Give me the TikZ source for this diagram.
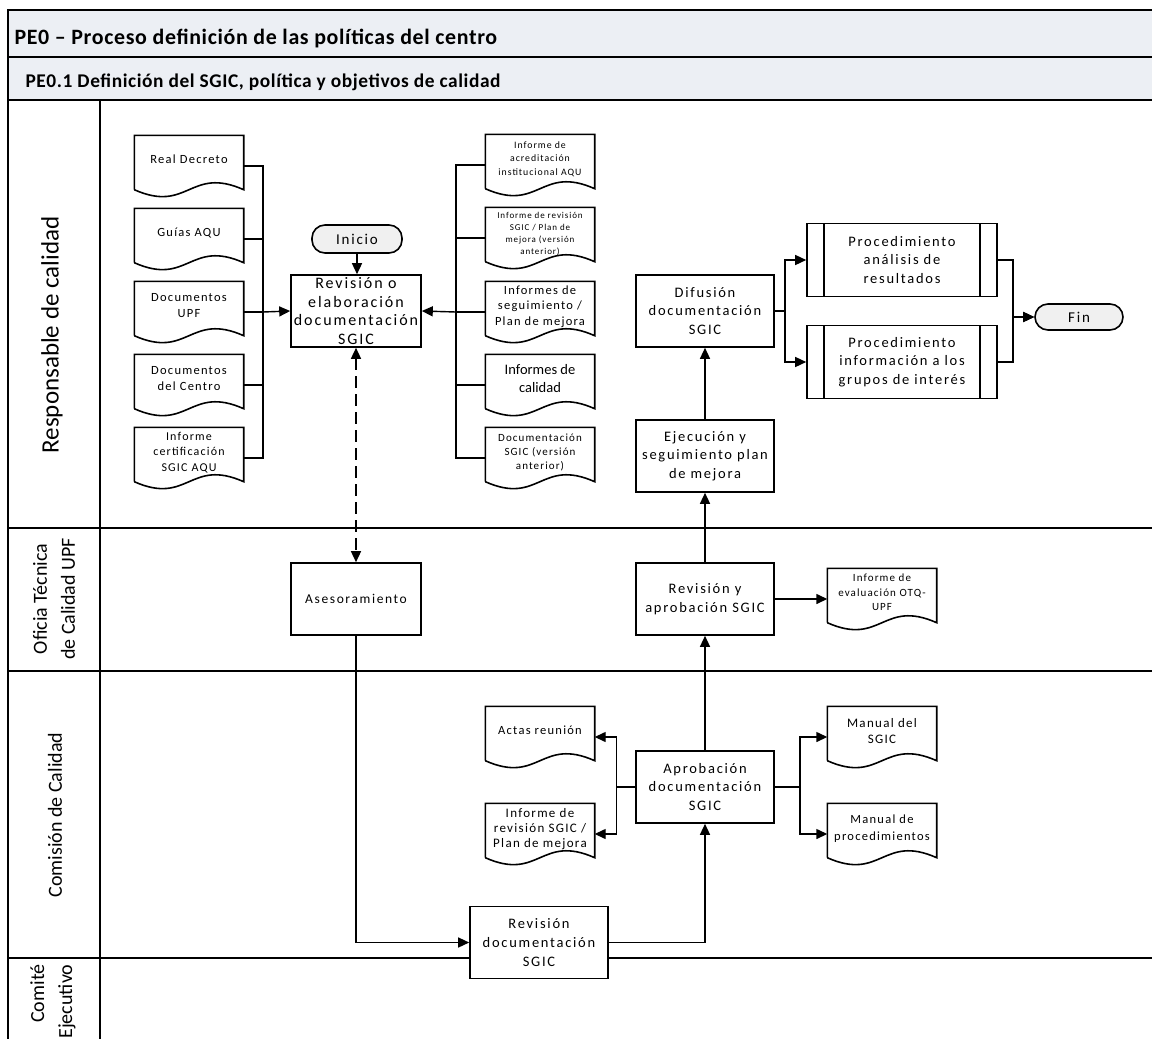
\documentclass[tikz,border=0pt]{standalone}
\usepackage{fontspec}
\setmainfont{Carlito}
\newfontfamily\spacedfont{Carlito}[LetterSpace=10]
\newfontfamily\boxfont{Carlito}[LetterSpace=12]
\newfontfamily\titlefont{Carlito}[LetterSpace=3]
\usetikzlibrary{arrows.meta,positioning}

\definecolor{bandgray}{RGB}{236,239,244}
\definecolor{termgray}{RGB}{240,240,240}

\newcommand{\fsz}[2]{\fontsize{#1}{#2}\selectfont}

\begin{document}
\begin{tikzpicture}[
    x=1pt, y=-1pt,
    box/.style={draw, fill=white, line width=1.6pt, minimum width=138pt, minimum height=72pt, align=center, inner sep=2pt, font=\boxfont\fsz{14.5}{18.7}},
    docu/.style={minimum width=109pt, minimum height=61pt, align=center, inner sep=1pt, text depth=13pt, font=\spacedfont\fsz{12.5}{16.5},
        append after command={\pgfextra{
            \draw[line width=1.6pt, fill=white]
                ([yshift=7pt]\tikzlastnode.south west) -- (\tikzlastnode.north west)
                -- (\tikzlastnode.north east) -- ([yshift=7pt]\tikzlastnode.south east)
                .. controls +(-54pt,24pt) and +(54pt,-24pt) .. ([yshift=7pt]\tikzlastnode.south west);
        }}},
    term/.style={draw, line width=1.6pt, rounded corners=13pt, fill=termgray, minimum width=90pt, minimum height=28pt, inner sep=1pt, font=\boxfont\fsz{15}{18}},
    subproc/.style={box, minimum width=190pt, minimum height=73pt,
        path picture={
            \draw[line width=1.6pt] ([xshift=17pt]path picture bounding box.north west) -- ([xshift=17pt]path picture bounding box.south west);
            \draw[line width=1.6pt] ([xshift=-17pt]path picture bounding box.north east) -- ([xshift=-17pt]path picture bounding box.south east);
        }},
    conn/.style={line width=1.4pt},
    arr/.style={conn, -{Triangle[length=11pt, width=10pt]}},
    arrboth/.style={conn, {Triangle[length=11pt, width=10pt]}-{Triangle[length=11pt, width=10pt]}, dash pattern=on 12pt off 6pt},
    lane/.style={line width=2.6pt},
    lanelabel/.style={rotate=90, align=center, font=\fsz{20}{28}}
]
    \useasboundingbox (0,0) rectangle (1152,1039);

    % Title bands
    \draw[lane, fill=bandgray] (8,10) rectangle (1162,57);
    \draw[lane, fill=bandgray] (8,57) rectangle (1162,100);
    \node[anchor=base west, font=\titlefont\bfseries\fsz{21.9}{24}] (title) at (11,44) {PE0 – Proceso definición de las políticas del centro};
    \node[anchor=base west, font=\titlefont\bfseries\fsz{19.4}{22}] (subtitle) at (22,87) {PE0.1 Definición del SGIC, política y objetivos de calidad};

    % Lanes
    \draw[lane] (8,100) -- (8,1050);
    \draw[lane] (100,100) -- (100,1050);
    \draw[lane] (8,528) -- (1162,528);
    \draw[lane] (8,671) -- (1162,671);
    \draw[lane] (8,958) -- (1162,958);

    \node[lanelabel, font=\fsz{25}{28}] (lresp) at (52,335) {Responsable de calidad};
    \node[lanelabel] (lotq) at (54,599) {Oficia Técnica\\de Calidad UPF};
    \node[lanelabel] (lcom) at (55,815) {Comisión de Calidad};
    \node[lanelabel, align=right, anchor=east] (lcej) at (53,961) {Comité\\Ejecutivo};

    % Input documents (left)
    \node[docu] (rd) at (189,166) {Real Decreto};
    \node[docu] (guias) at (189,239) {Guías AQU};
    \node[docu, font=\spacedfont\fsz{12.5}{16.7}] (dupf) at (189,312) {Documentos\\UPF};
    \node[docu, font=\spacedfont\fsz{12.5}{16.7}] (dcen) at (189,385) {Documentos\\del Centro};
    \node[docu, font=\spacedfont\fsz{12}{15.6}] (icert) at (189,458) {Informe\\certificación\\SGIC AQU};

    % Input documents (right)
    \node[docu, font=\spacedfont\fsz{9.8}{13.2}] (iacr) at (540,165) {Informe de\\acreditación\\institucional AQU};
    \node[docu, font=\spacedfont\fsz{9}{11.9}, text depth=9pt] (irev) at (540,238) {Informe de revisión\\SGIC / Plan de\\mejora (versión\\anterior)};
    \node[docu, font=\spacedfont\fsz{12.5}{15.8}] (iseg) at (540,312) {Informes de\\seguimiento /\\Plan de mejora};
    \node[docu, font=\fsz{14.5}{18.3}] (ical) at (540,385) {Informes de\\calidad};
    \node[docu, font=\spacedfont\fsz{11}{14.2}] (dant) at (540,458) {Documentación\\SGIC (versión\\anterior)};

    % Process
    \node[term] (inicio) at (357,239) {Inicio};
    \node[box, minimum width=130pt, font=\boxfont\fsz{16}{18.7}] (rev) at (356,311) {Revisión o\\elaboración\\documentación\\SGIC};
    \node[box, minimum width=130pt, font=\boxfont\fsz{13.5}{17}] (ases) at (356,599) {Asesoramiento};
    \node[box] (revdoc) at (539,942.5) {Revisión\\documentación\\SGIC};
    \node[box] (aprob) at (705,787) {Aprobación\\documentación\\SGIC};
    \node[box] (revapr) at (705,599) {Revisión y\\aprobación SGIC};
    \node[box] (ejec) at (705,456) {Ejecución y\\seguimiento plan\\de mejora};
    \node[box] (dif) at (705,311) {Difusión\\documentación\\SGIC};
    \node[subproc] (proc1) at (902,260) {Procedimiento\\análisis de\\resultados};
    \node[subproc] (proc2) at (902,362) {Procedimiento\\información a los\\grupos de interés};
    \node[term, minimum width=88pt, minimum height=26pt] (fin) at (1079,317) {Fin};

    % Output documents
    \node[docu, font=\spacedfont\fsz{11}{14.5}] (otq) at (882,599) {Informe de\\evaluación OTQ-\\UPF};
    \node[docu] (actas) at (540,737) {Actas reunión};
    \node[docu, font=\spacedfont\fsz{13}{15}] (infrev) at (540,834) {Informe de\\revisión SGIC /\\Plan de mejora};
    \node[docu, font=\spacedfont\fsz{13}{16}] (man1) at (882,737) {Manual del\\SGIC};
    \node[docu, font=\spacedfont\fsz{12.5}{16.5}] (man2) at (882,834) {Manual de\\procedimientos};

    % Connections
    \coordinate (busL) at (263,312);
    \draw[conn] (rd.east) -| (busL);
    \draw[conn] (guias.east) -| (busL);
    \draw[conn] (dupf.east) -| (busL);
    \draw[conn] (dcen.east) -| (busL);
    \draw[conn] (icert.east) -| (busL);
    \draw[arr] (busL) -- (rev.west);

    \coordinate (busR) at (456,312);
    \draw[conn] (iacr.west) -| (busR);
    \draw[conn] (irev.west) -| (busR);
    \draw[conn] (iseg.west) -| (busR);
    \draw[conn] (ical.west) -| (busR);
    \draw[conn] (dant.west) -| (busR);
    \draw[arr] (busR) -- (rev.east);

    \draw[arr] (inicio.south) -- (inicio.south |- rev.north);
    \draw[arrboth] (rev) -- (ases);
    \draw[arr] (ases.south) |- (revdoc.west);
    \draw[arr] (revdoc.east) -| (aprob.south);
    \draw[arr] (aprob) -- (revapr);
    \draw[arr] (revapr) -- (otq);
    \draw[arr] (revapr) -- (ejec);
    \draw[arr] (ejec) -- (dif);

    \draw[arr] (aprob.west) -- ++(-19pt,0) |- (actas.east);
    \draw[arr] (aprob.west) -- ++(-19pt,0) |- (infrev.east);
    \draw[arr] (aprob.east) -- ++(25pt,0) |- (man1.west);
    \draw[arr] (aprob.east) -- ++(25pt,0) |- (man2.west);

    \draw[arr] (dif.east) -- ++(10pt,0) |- (proc1.west);
    \draw[arr] (dif.east) -- ++(10pt,0) |- (proc2.west);
    \draw[arr] (proc1.east) -- ++(15pt,0) |- (fin.west);
    \draw[arr] (proc2.east) -- ++(15pt,0) |- (fin.west);

\end{tikzpicture}
\end{document}
